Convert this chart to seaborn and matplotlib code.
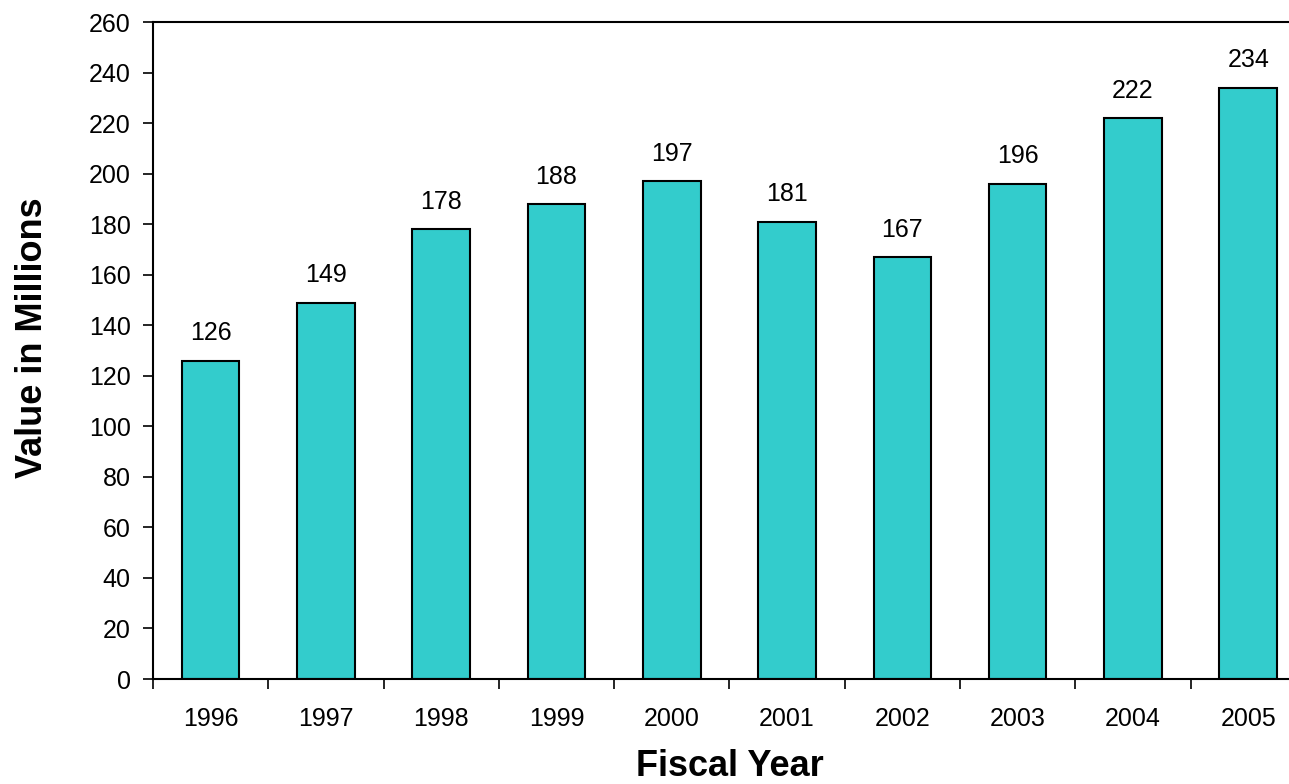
import numpy as np
import pandas as pd
import matplotlib
matplotlib.use("Agg")
import matplotlib.pyplot as plt
import seaborn as sns

# datos del gráfico
years = ["1996", "1997", "1998", "1999", "2000", "2001", "2002", "2003", "2004", "2005"]
values = [126, 149, 178, 188, 197, 181, 167, 196, 222, 234]

df = pd.DataFrame({"Fiscal Year": years, "Value": values})

sns.set_style("white")
plt.rcParams["font.family"] = ["Liberation Sans", "DejaVu Sans"]
plt.rcParams["text.color"] = "black"
plt.rcParams["axes.labelcolor"] = "black"
plt.rcParams["xtick.color"] = "black"
plt.rcParams["ytick.color"] = "black"

fig = plt.figure(figsize=(12.89, 7.84), dpi=100)
ax = fig.add_axes([0.1187, 0.1339, 0.8944, 0.838])

sns.barplot(x="Fiscal Year", y="Value", data=df, color="#33CCCC",
            edgecolor="black", linewidth=1.5, width=0.5, saturation=1, ax=ax)

for c in ax.containers:
    ax.bar_label(c, padding=11, fontsize=18, color="black")

ax.set_ylim(0, 260)
ax.set_yticks(range(0, 261, 20))
ax.set_xlim(-0.5, len(years) - 0.5)

# ticks en los bordes de las categorías, etiquetas en el centro
ax.set_xticks(np.arange(-0.5, len(years), 1))
ax.set_xticklabels([])
ax.set_xticks(np.arange(len(years)), minor=True)
ax.set_xticklabels(years, minor=True)
ax.tick_params(axis="x", which="major", direction="out", length=7, width=1.2, bottom=True)
ax.tick_params(axis="x", which="minor", length=0, pad=20, labelsize=18)
ax.tick_params(axis="y", direction="out", length=7, width=1.2, left=True, labelsize=18, pad=9)

for s in ax.spines.values():
    s.set_color("black")
    s.set_linewidth(1.5)

ax.set_xlabel("Fiscal Year", fontsize=26, fontweight="bold", labelpad=13)
ax.set_ylabel("Value in Millions", fontsize=26, fontweight="bold")
ax.yaxis.set_label_coords(-0.0893, 0.52)

fig.savefig("out.png", dpi=100)
